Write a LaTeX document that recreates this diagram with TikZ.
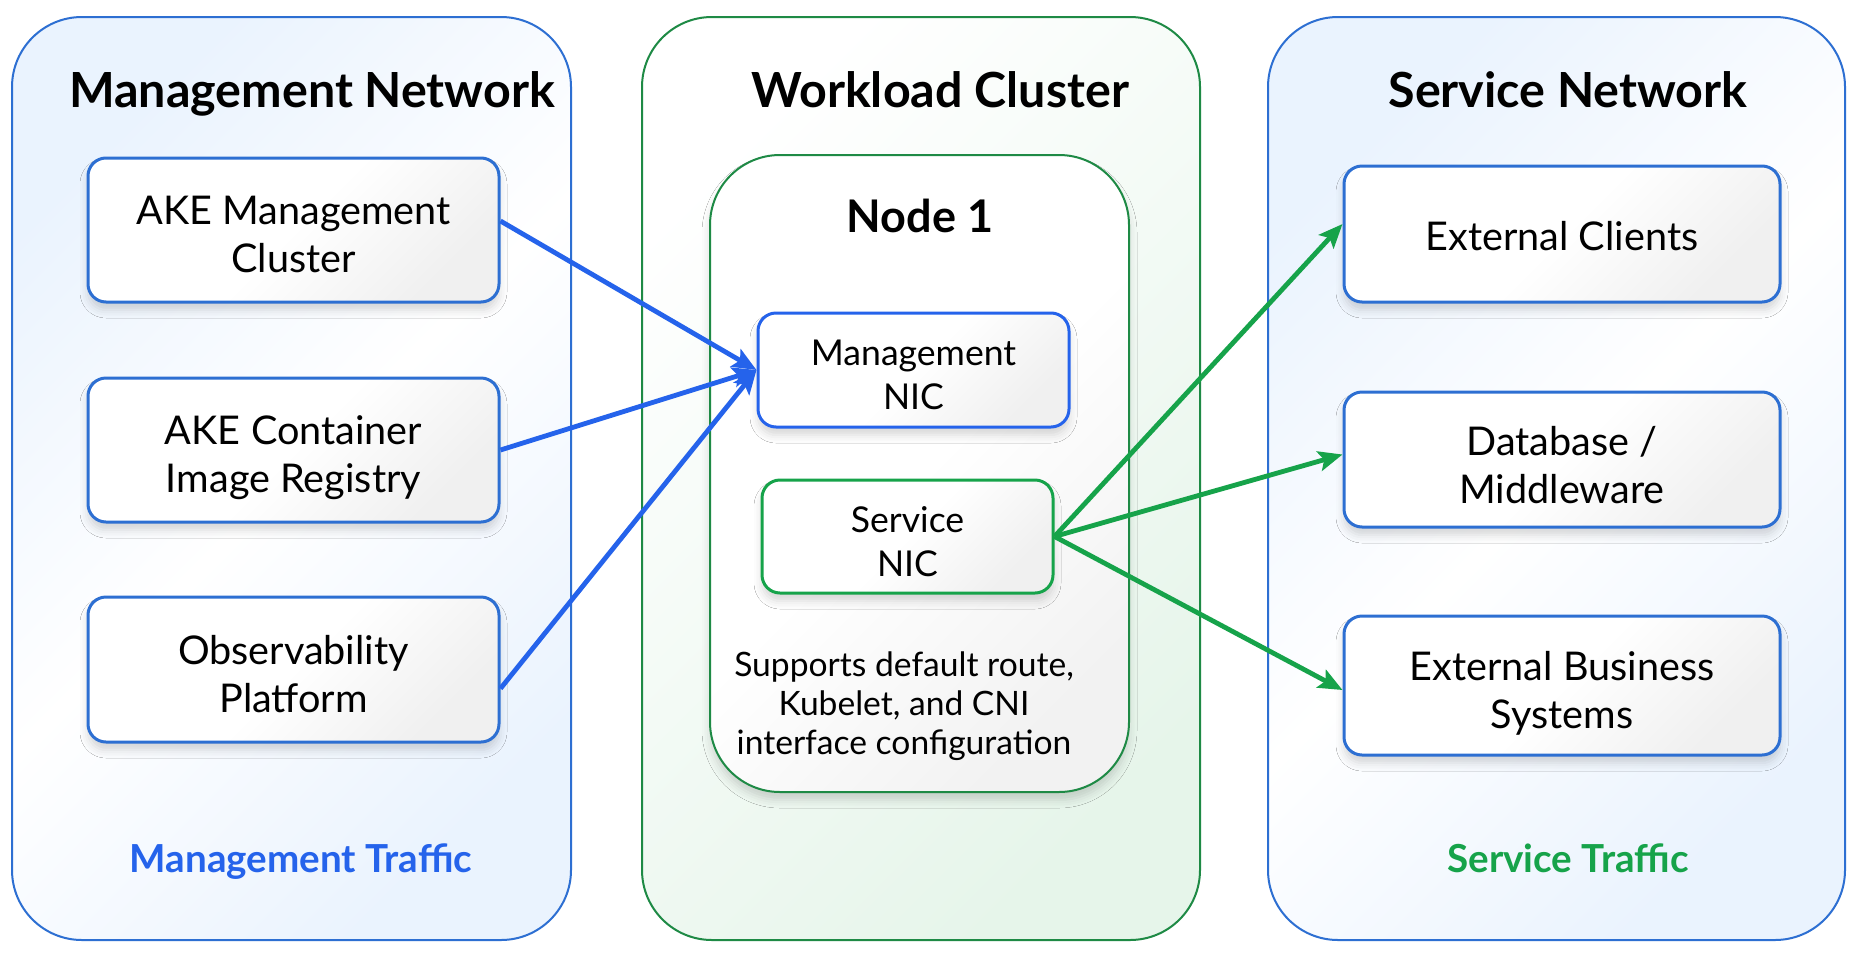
\documentclass[tikz,border=0pt]{standalone}
\usepackage{fontspec}
\setmainfont{Lato}
\usetikzlibrary{arrows.meta,shadows.blur}
\definecolor{pblue}{HTML}{2D6FD2}
\definecolor{ablue}{HTML}{2563EB}
\definecolor{pgreen}{HTML}{1E8A45}
\definecolor{agreen}{HTML}{16A34A}
\definecolor{lblue}{HTML}{EAF3FE}
\definecolor{lgreen}{HTML}{E6F5EA}
\newcommand{\boxtxt}[2][-4.5pt]{\raisebox{#1}[\height][\depth]{\begin{tabular}{@{}c@{}}#2\end{tabular}}}
\begin{document}
\begin{tikzpicture}[x=0.5pt,y=-0.5pt,
  panel/.style={draw, line width=1pt, rounded corners=35pt, inner sep=0pt},
  bluepanel/.style={panel, draw=pblue, top color=lblue, bottom color=lblue, middle color=white, shading angle=45},
  greenpanel/.style={panel, draw=pgreen, top color=white, bottom color=lgreen, middle color=white!50!lgreen, shading angle=45},
  title/.style={font=\fontsize{24.2}{28}\selectfont\bfseries, anchor=base},
  boxshadow/.style={blur shadow={shadow xshift=0pt, shadow yshift=-4pt, shadow blur radius=4pt, shadow opacity=16}},
  itembox/.style={draw=pblue, line width=1.5pt, rounded corners=9pt, top color=white, bottom color=black!6, middle color=white, shading angle=45, boxshadow, font=\fontsize{19.8}{24}\selectfont, inner sep=0pt},
  nicbox/.style={line width=1.5pt, rounded corners=9pt, top color=white, bottom color=black!6, middle color=white, shading angle=45, boxshadow, font=\fontsize{17.8}{22}\selectfont, inner sep=0pt},
  nodebox/.style={draw=pgreen, line width=1pt, rounded corners=35pt, top color=white, bottom color=black!5, middle color=white, shading angle=45, boxshadow, inner sep=0pt},
  desc/.style={align=center, font=\fontsize{16.8}{19.5}\selectfont},
  traffic/.style={font=\fontsize{19.3}{23}\selectfont\bfseries, anchor=base},
  barrow/.style={draw=ablue, line width=2.4pt, -{Stealth[length=12pt, width=10pt, inset=2.5pt]}},
  garrow/.style={draw=agreen, line width=2.4pt, -{Stealth[length=12pt, width=10pt, inset=2.5pt]}}
]
\useasboundingbox (0,0) rectangle (1858,959);
\fill[white] (0,0) rectangle (1858,959);

% panels
\node[bluepanel, minimum width=279.5pt, minimum height=461.5pt] (mgmtnet) at (291.5,478.5) {};
\node[greenpanel, minimum width=279pt, minimum height=461.5pt] (wlc) at (921,478.5) {};
\node[bluepanel, minimum width=288.5pt, minimum height=461.5pt] (svcnet) at (1556.5,478.5) {};

\node[title] (t1) at (312,107) {Management Network};
\node[title] (t2) at (940,107) {Workload Cluster};
\node[title] (t3) at (1568,107) {Service Network};

% left boxes
\node[itembox, minimum width=205.5pt, minimum height=72pt] (akemc) at (293.5,230) {\boxtxt{AKE Management\\Cluster}};
\node[itembox, minimum width=205.5pt, minimum height=72pt] (akecr) at (293.5,450) {\boxtxt{AKE Container\\Image Registry}};
\node[itembox, minimum width=205.5pt, minimum height=72.5pt] (obs) at (293.5,669.5) {\boxtxt{Observability\\Platform}};

% node 1
\node[nodebox, minimum width=209.5pt, minimum height=318.5pt] (node1) at (919.5,473.5) {};
\node[title, font=\fontsize{22.5}{26}\selectfont\bfseries] (n1t) at (920,232) {Node 1};
\node[nicbox, draw=ablue, minimum width=155.5pt, minimum height=57pt] (mnic) at (913.5,370) {\boxtxt[-4.4pt]{Management\\NIC}};
\node[nicbox, draw=agreen, minimum width=145.5pt, minimum height=56.5pt] (snic) at (907.5,536.5) {\boxtxt[-4.6pt]{Service\\NIC}};
\node[desc] (dtext) at (904,706) {Supports default route,\\Kubelet, and CNI\\interface configuration};

% right boxes
\node[itembox, minimum width=218pt, minimum height=68pt] (ext) at (1562,234) {\boxtxt[-3.4pt]{External Clients}};
\node[itembox, minimum width=218pt, minimum height=67.5pt] (db) at (1562,459.5) {\boxtxt[-5pt]{Database /\\Middleware}};
\node[itembox, minimum width=218pt, minimum height=69.5pt] (biz) at (1562,685.5) {\boxtxt{External Business\\Systems}};

% traffic labels
\node[traffic, text=ablue] (mt) at (301,872) {Management Traffic};
\node[traffic, text=agreen] (st) at (1568,872) {Service Traffic};

% connectors
\draw[barrow] ([yshift=4.5pt]akemc.east) -- (mnic.west);
\draw[barrow] (akecr.east) -- (mnic.west);
\draw[barrow] ([yshift=-9.5pt]obs.east) -- (mnic.west);
\draw[garrow] (snic.east) -- ([yshift=5pt]ext.west);
\draw[garrow] (snic.east) -- ([yshift=2.5pt]db.west);
\draw[garrow] (snic.east) -- ([yshift=-2.25pt]biz.west);
\end{tikzpicture}
\end{document}
